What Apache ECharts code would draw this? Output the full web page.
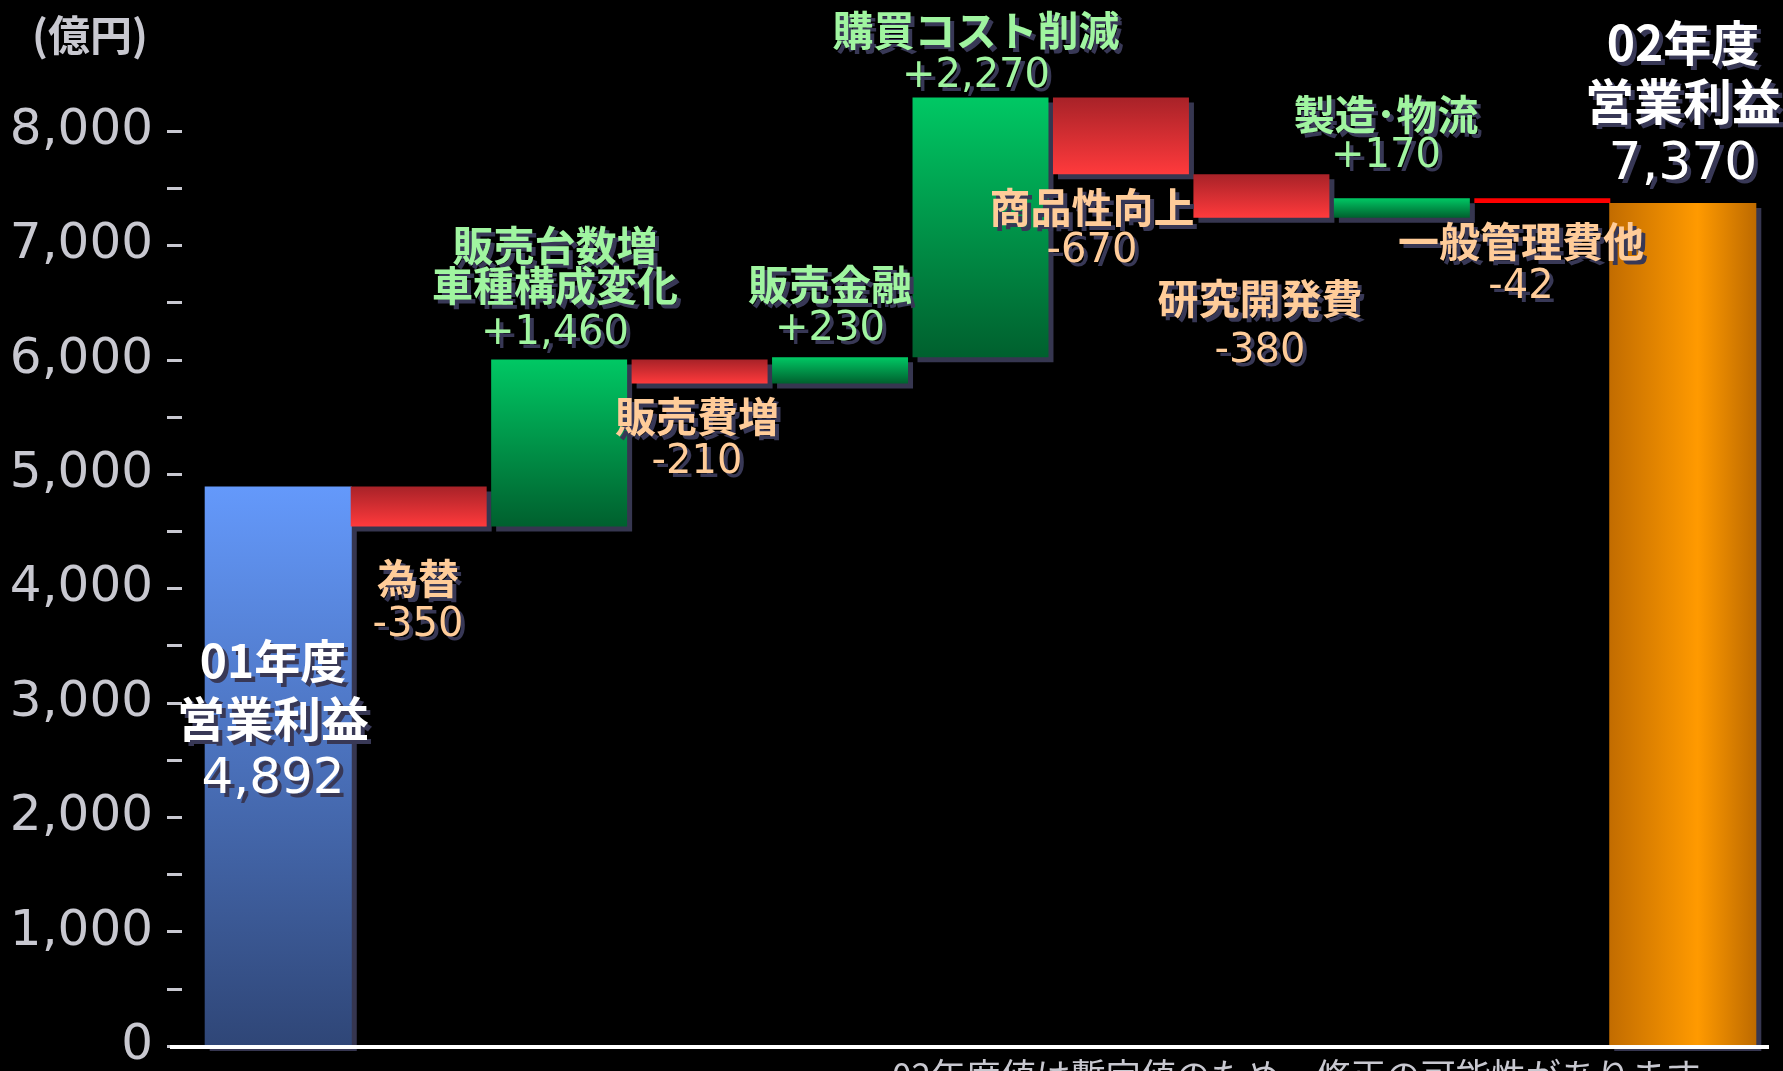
<!DOCTYPE html>
<html>
<head>
<meta charset="utf-8">
<title>営業利益 増減要因</title>
<script src="https://cdn.jsdelivr.net/npm/echarts@6/dist/echarts.min.js"></script>
<style>
  html, body { margin: 0; padding: 0; background: #000; }
  #chart { width: 1783px; height: 1071px; }
</style>
</head>
<body>
<div id="chart"></div>
<script>
// 営業利益の増減要因（単位：億円）
const categories = [
  '01年度\n営業利益', '為替', '販売台数増\n車種構成変化', '販売費増', '販売金融',
  '購買コスト削減', '商品性向上', '研究開発費', '製造･物流', '一般管理費他', '02年度\n営業利益'
];
const startProfit = 4892;
const changes = [-350, 1460, -210, 230, 2270, -670, -380, 170, -42];
const endProfit = 7370;
const yTickLabels = [0, 1000, 2000, 3000, 4000, 5000, 6000, 7000, 8000];
const unitLabel = '(億円)';
const footNote = '02年度値は暫定値のため、修正の可能性があります';

// where each category's caption sits: centre x, line centres, value line centre
const captionLayout = [
  { x: 273,  lines: [661, 719], value: 780, nameSize: [46, 48], valueSize: 50 },
  { x: 418,  lines: [578],      value: 626 },
  { x: 555,  lines: [245, 285], value: 334 },
  { x: 697,  lines: [416],      value: 463 },
  { x: 830,  lines: [284],      value: 330 },
  { x: 976,  lines: [30],       value: 77 },
  { x: 1092, lines: [207],      value: 252 },
  { x: 1260, lines: [298],      value: 352 },
  { x: 1386, lines: [114],      value: 157 },
  { x: 1521, lines: [241],      value: 288 },
  { x: 1683, lines: [43, 101],  value: 165, nameSize: [48, 49], valueSize: 52 }
];

// floating bars: [category index, low, high]
const bars = [[0, 0, startProfit]];
const barKinds = ['start'];
let level = startProfit;
changes.forEach((d, k) => {
  const next = level + d;
  bars.push([k + 1, Math.min(level, next), Math.max(level, next)]);
  barKinds.push(d >= 0 ? 'up' : 'down');
  level = next;
});
bars.push([categories.length - 1, 0, endProfit]);
barKinds.push('end');

const barValues = [startProfit].concat(changes, [endProfit]);

const LG = echarts.graphic.LinearGradient;
const fills = {
  start: new LG(0, 0, 0, 1, [{ offset: 0, color: '#6499fb' }, { offset: 1, color: '#2f4677' }]),
  end: new LG(0, 0, 1, 0, [{ offset: 0, color: '#c26c00' }, { offset: 0.6, color: '#ff9a00' }, { offset: 1, color: '#bd6a00' }]),
  up: new LG(0, 0, 0, 1, [{ offset: 0, color: '#00c864' }, { offset: 1, color: '#00602e' }]),
  down: new LG(0, 0, 0, 1, [{ offset: 0, color: '#a82228' }, { offset: 1, color: '#ff3a3c' }])
};

const SHADOW = '#363650';
const chart = echarts.init(document.getElementById('chart'), null, { renderer: 'canvas' });

chart.setOption({
  backgroundColor: '#000',
  animation: false,
  grid: { left: 208, right: 30, top: 131, bottom: 19 },
  xAxis: {
    type: 'category',
    data: categories,
    axisLine: { show: false },
    axisTick: { show: false },
    axisLabel: { show: false },
    splitLine: { show: false }
  },
  yAxis: {
    type: 'value',
    min: 0,
    max: 8000,
    interval: 500,
    offset: 26,
    axisLine: { show: false },
    splitLine: { show: false },
    axisTick: { show: true, length: 15, lineStyle: { color: '#c8c8d0', width: 3 } },
    axisLabel: {
      margin: 29,
      color: '#c8c8d0',
      fontFamily: 'DejaVu Sans',
      fontSize: 50,
      formatter: v => (yTickLabels.indexOf(v) >= 0 ? v.toLocaleString('en-US') : '')
    }
  },
  series: [{
    type: 'custom',
    clip: false,
    encode: { x: 0, y: [1, 2] },
    data: bars,
    renderItem: function (params, api) {
      const i = api.value(0);
      const low = api.coord([i, api.value(1)]);
      const high = api.coord([i, api.value(2)]);
      const band = api.size([1, 0])[0];
      const kind = barKinds[params.dataIndex];
      const isTotal = kind === 'start' || kind === 'end';
      const w = band * (isTotal ? 1.047 : 0.968);
      const h = low[1] - high[1];
      const thin = h < 8;
      return {
        type: 'rect',
        shape: { x: low[0] - w / 2, y: high[1], width: w, height: h },
        style: {
          fill: thin ? '#ff0000' : fills[kind],
          shadowColor: thin ? 'rgba(0,0,0,0)' : SHADOW,
          shadowBlur: 0,
          shadowOffsetX: 5,
          shadowOffsetY: 5
        }
      };
    }
  }]
});

// captions, axis base line and notes
const zeroY = chart.convertToPixel({ yAxisIndex: 0 }, 0);
const textShadow = { textShadowColor: '#383856', textShadowBlur: 0.01, textShadowOffsetX: 4, textShadowOffsetY: 4 };

function label(x, y, text, font, color, align) {
  return {
    type: 'text', z: 20,
    style: Object.assign({
      x: x, y: y, text: text, font: font, fill: color,
      textAlign: align || 'center', textVerticalAlign: 'middle'
    }, textShadow)
  };
}

function formatValue(v, idx) {
  const s = Math.abs(v).toLocaleString('en-US');
  if (idx === 0 || idx === barValues.length - 1) return s;
  return (v >= 0 ? '+' : '-') + s;
}

const elements = [];
categories.forEach((name, idx) => {
  const lay = captionLayout[idx];
  const v = barValues[idx];
  const isTotal = idx === 0 || idx === categories.length - 1;
  const color = isTotal ? '#ffffff' : (v >= 0 ? '#a0f5a0' : '#ffcc99');
  name.split('\n').forEach((line, j) => {
    const size = lay.nameSize ? lay.nameSize[j] : 41;
    elements.push(label(lay.x, lay.lines[j], line, 'bold ' + size + 'px "Noto Sans CJK JP"', color));
  });
  const vs = lay.valueSize || 40;
  elements.push(label(lay.x, lay.value, formatValue(v, idx), vs + 'px "DejaVu Sans"', color));
});

elements.push({
  type: 'line', z: 15,
  shape: { x1: 170, y1: zeroY + 1, x2: 1769, y2: zeroY + 1 },
  style: { stroke: '#ffffff', lineWidth: 4 }
});
elements.push({
  type: 'text', z: 20,
  style: { x: 90, y: 35, text: unitLabel, font: 'bold 42px "Noto Sans CJK JP"', fill: '#c8c8d0',
           textAlign: 'center', textVerticalAlign: 'middle' }
});
elements.push({
  type: 'text', z: 20,
  style: { x: 892, y: 1058, text: footNote, font: '35px "Noto Sans CJK JP"', fill: '#c8c8d0',
           textAlign: 'left', textVerticalAlign: 'top' }
});

chart.setOption({ graphic: { elements: elements } });
</script>
</body>
</html>
